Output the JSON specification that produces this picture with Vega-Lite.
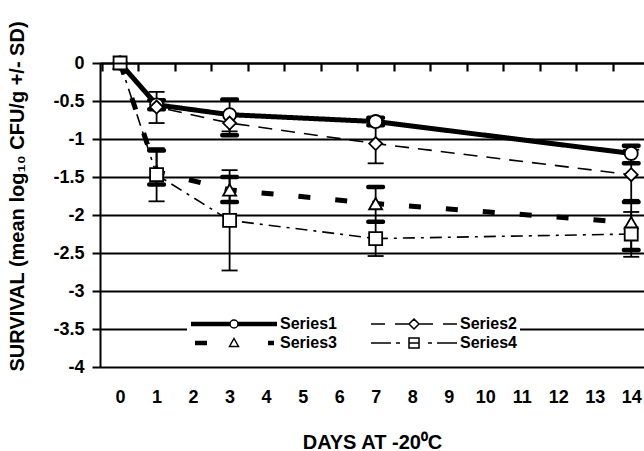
{
  "$schema": "https://vega.github.io/schema/vega-lite/v6.json",
  "width": 544,
  "height": 304,
  "autosize": {"type": "none"},
  "padding": {"left": 100, "top": 63, "right": 0, "bottom": 84},
  "background": "white",
  "config": {
    "view": {"stroke": null},
    "font": "Liberation Sans",
    "axis": {"labelFont": "Liberation Sans", "titleFont": "Liberation Sans", "labelColor": "black", "titleColor": "black"}
  },
  "data": {
    "values": [
      {"series": "Series1", "day": 0, "mean": 0, "lo": null, "hi": null},
      {"series": "Series1", "day": 1, "mean": -0.55, "lo": -0.61, "hi": -0.49},
      {"series": "Series1", "day": 3, "mean": -0.68, "lo": -0.95, "hi": -0.48},
      {"series": "Series1", "day": 7, "mean": -0.77, "lo": -0.82, "hi": -0.72},
      {"series": "Series1", "day": 14, "mean": -1.19, "lo": -1.32, "hi": -1.09},
      {"series": "Series2", "day": 0, "mean": 0, "lo": null, "hi": null},
      {"series": "Series2", "day": 1, "mean": -0.58, "lo": -0.79, "hi": -0.38},
      {"series": "Series2", "day": 3, "mean": -0.79, "lo": -0.9, "hi": -0.68},
      {"series": "Series2", "day": 7, "mean": -1.06, "lo": -1.32, "hi": -0.8},
      {"series": "Series2", "day": 14, "mean": -1.47, "lo": -1.8, "hi": -1.14},
      {"series": "Series3", "day": 0, "mean": 0, "lo": null, "hi": null},
      {"series": "Series3", "day": 1, "mean": -1.43, "lo": -1.6, "hi": -1.15},
      {"series": "Series3", "day": 3, "mean": -1.67, "lo": -1.83, "hi": -1.5},
      {"series": "Series3", "day": 7, "mean": -1.85, "lo": -2.09, "hi": -1.63},
      {"series": "Series3", "day": 14, "mean": -2.1, "lo": -2.46, "hi": -1.83},
      {"series": "Series4", "day": 0, "mean": 0, "lo": null, "hi": null},
      {"series": "Series4", "day": 1, "mean": -1.47, "lo": -1.82, "hi": -1.12},
      {"series": "Series4", "day": 3, "mean": -2.07, "lo": -2.73, "hi": -1.41},
      {"series": "Series4", "day": 7, "mean": -2.31, "lo": -2.54, "hi": -2.09},
      {"series": "Series4", "day": 14, "mean": -2.25, "lo": -2.55, "hi": -1.96}
    ]
  },
  "resolve": {"scale": {"shape": "independent"}, "axis": {"x": "independent"}},
  "layer": [
    {
      "transform": [{"filter": "datum.series === 'Series1' || datum.series === 'Series3'"}],
      "mark": {"type": "line", "color": "black", "strokeWidth": 5, "strokeCap": "butt"},
      "encoding": {
        "x": {"field": "day", "type": "quantitative",
          "scale": {"domain": [-0.55, 14.35], "nice": false, "zero": false},
          "axis": {"orient": "top", "values": [-0.5,0.5,1.5,2.5,3.5,4.5,5.5,6.5,7.5,8.5,9.5,10.5,11.5,12.5,13.5],
            "domain": true, "domainColor": "black", "domainWidth": 2, "labels": false, "grid": false,
            "ticks": true, "tickSize": -8, "tickColor": "black", "tickWidth": 2.2, "tickOpacity": 1, "zindex": 2, "title": null}},
        "y": {"field": "mean", "type": "quantitative",
          "scale": {"domain": [-4, 0], "nice": false, "zero": false},
          "axis": {"values": [-4,-3.5,-3,-2.5,-2,-1.5,-1,-0.5,0], "labelExpr": "'' + datum.value",
            "grid": true, "gridColor": "black", "gridWidth": 2, "gridOpacity": 1,
            "domainColor": "black", "domainWidth": 2, "tickColor": "black", "tickWidth": 2, "tickSize": 8,
            "labelFontSize": 18, "labelFontWeight": "bold", "labelPadding": 8,
            "title": "SURVIVAL (mean log₁₀ CFU/g +/- SD)", "titleFontSize": 20, "titleFontWeight": "bold",
            "titleAngle": -90, "titleX": -83, "titleY": 133, "titleBaseline": "middle", "titleAlign": "center"}},
        "detail": {"field": "series"},
        "strokeDash": {"field": "series", "type": "nominal",
          "scale": {"domain": ["Series1", "Series2", "Series3", "Series4"], "range": [[1, 0], [14, 9], [12, 25], [12, 6, 3, 6]]},
          "legend": null}
      }
    },
    {
      "transform": [{"filter": "datum.series === 'Series2' || datum.series === 'Series4'"}],
      "mark": {"type": "line", "color": "black", "strokeWidth": 1.6},
      "encoding": {
        "x": {"field": "day", "type": "quantitative",
          "axis": {"orient": "bottom", "values": [0,1,2,3,4,5,6,7,8,9,10,11,12,13,14], "domain": false, "ticks": false, "grid": false,
            "labelFontSize": 18, "labelFontWeight": "bold", "labelPadding": 21, "labelFlush": false,
            "title": "DAYS AT -20⁰C", "titleFontSize": 20, "titleFontWeight": "bold", "titleY": 75, "titleBaseline": "middle"}},
        "y": {"field": "mean", "type": "quantitative",
          "axis": {"values": [-4,-3.5,-3,-2.5,-2,-1.5,-1,-0.5,0], "labelExpr": "'' + datum.value",
            "grid": true, "gridColor": "black", "gridWidth": 2, "gridOpacity": 1,
            "domainColor": "black", "domainWidth": 2, "tickColor": "black", "tickWidth": 2, "tickSize": 8,
            "labelFontSize": 18, "labelFontWeight": "bold", "labelPadding": 8,
            "title": "SURVIVAL (mean log₁₀ CFU/g +/- SD)", "titleFontSize": 20, "titleFontWeight": "bold",
            "titleAngle": -90, "titleX": -83, "titleY": 133, "titleBaseline": "middle", "titleAlign": "center"}},
        "strokeDash": {"field": "series", "type": "nominal", "legend": null}
      }
    },
    {
      "transform": [{"filter": "datum.lo != null"}],
      "mark": {"type": "rule", "color": "black", "strokeWidth": 1.8},
      "encoding": {
        "x": {"field": "day", "type": "quantitative", "axis": null},
        "y": {"field": "lo", "type": "quantitative",
          "axis": {"values": [-4,-3.5,-3,-2.5,-2,-1.5,-1,-0.5,0], "labelExpr": "'' + datum.value",
            "grid": true, "gridColor": "black", "gridWidth": 2, "gridOpacity": 1,
            "domainColor": "black", "domainWidth": 2, "tickColor": "black", "tickWidth": 2, "tickSize": 8,
            "labelFontSize": 18, "labelFontWeight": "bold", "labelPadding": 8,
            "title": "SURVIVAL (mean log₁₀ CFU/g +/- SD)", "titleFontSize": 20, "titleFontWeight": "bold",
            "titleAngle": -90, "titleX": -83, "titleY": 133, "titleBaseline": "middle", "titleAlign": "center"}},
        "y2": {"field": "hi"}
      }
    },
    {
      "transform": [
        {"filter": "datum.lo != null && (datum.series === 'Series1' || datum.series === 'Series3')"},
        {"fold": ["lo", "hi"], "as": ["end", "val"]}
      ],
      "mark": {"type": "tick", "orient": "horizontal", "color": "black", "size": 19, "thickness": 4.5, "cornerRadius": 2, "opacity": 1},
      "encoding": {
        "x": {"field": "day", "type": "quantitative", "axis": null},
        "y": {"field": "val", "type": "quantitative",
          "axis": {"values": [-4,-3.5,-3,-2.5,-2,-1.5,-1,-0.5,0], "labelExpr": "'' + datum.value",
            "grid": true, "gridColor": "black", "gridWidth": 2, "gridOpacity": 1,
            "domainColor": "black", "domainWidth": 2, "tickColor": "black", "tickWidth": 2, "tickSize": 8,
            "labelFontSize": 18, "labelFontWeight": "bold", "labelPadding": 8,
            "title": "SURVIVAL (mean log₁₀ CFU/g +/- SD)", "titleFontSize": 20, "titleFontWeight": "bold",
            "titleAngle": -90, "titleX": -83, "titleY": 133, "titleBaseline": "middle", "titleAlign": "center"}}
      }
    },
    {
      "transform": [
        {"filter": "datum.lo != null && (datum.series === 'Series2' || datum.series === 'Series4')"},
        {"fold": ["lo", "hi"], "as": ["end", "val"]}
      ],
      "mark": {"type": "tick", "orient": "horizontal", "color": "black", "size": 16, "thickness": 1.8, "opacity": 1},
      "encoding": {
        "x": {"field": "day", "type": "quantitative", "axis": null},
        "y": {"field": "val", "type": "quantitative",
          "axis": {"values": [-4,-3.5,-3,-2.5,-2,-1.5,-1,-0.5,0], "labelExpr": "'' + datum.value",
            "grid": true, "gridColor": "black", "gridWidth": 2, "gridOpacity": 1,
            "domainColor": "black", "domainWidth": 2, "tickColor": "black", "tickWidth": 2, "tickSize": 8,
            "labelFontSize": 18, "labelFontWeight": "bold", "labelPadding": 8,
            "title": "SURVIVAL (mean log₁₀ CFU/g +/- SD)", "titleFontSize": 20, "titleFontWeight": "bold",
            "titleAngle": -90, "titleX": -83, "titleY": 133, "titleBaseline": "middle", "titleAlign": "center"}}
      }
    },
    {
      "mark": {"type": "point", "filled": true, "fill": "white", "stroke": "black", "strokeWidth": 1.8, "size": 170, "opacity": 1},
      "encoding": {
        "x": {"field": "day", "type": "quantitative", "axis": null},
        "y": {"field": "mean", "type": "quantitative",
          "axis": {"values": [-4,-3.5,-3,-2.5,-2,-1.5,-1,-0.5,0], "labelExpr": "'' + datum.value",
            "grid": true, "gridColor": "black", "gridWidth": 2, "gridOpacity": 1,
            "domainColor": "black", "domainWidth": 2, "tickColor": "black", "tickWidth": 2, "tickSize": 8,
            "labelFontSize": 18, "labelFontWeight": "bold", "labelPadding": 8,
            "title": "SURVIVAL (mean log₁₀ CFU/g +/- SD)", "titleFontSize": 20, "titleFontWeight": "bold",
            "titleAngle": -90, "titleX": -83, "titleY": 133, "titleBaseline": "middle", "titleAlign": "center"}},
        "shape": {"field": "series", "type": "nominal",
          "scale": {"domain": ["Series1", "Series2", "Series3", "Series4"], "range": ["circle", "diamond", "triangle-up", "square"]},
          "legend": null}
      }
    },
    {
      "mark": {"type": "point", "filled": true, "fill": "transparent", "stroke": "transparent", "strokeWidth": 1.5},
      "encoding": {
        "x": {"field": "day", "type": "quantitative", "axis": null},
        "y": {"field": "mean", "type": "quantitative",
          "axis": {"values": [-4,-3.5,-3,-2.5,-2,-1.5,-1,-0.5,0], "labelExpr": "'' + datum.value",
            "grid": true, "gridColor": "black", "gridWidth": 2, "gridOpacity": 1,
            "domainColor": "black", "domainWidth": 2, "tickColor": "black", "tickWidth": 2, "tickSize": 8,
            "labelFontSize": 18, "labelFontWeight": "bold", "labelPadding": 8,
            "title": "SURVIVAL (mean log₁₀ CFU/g +/- SD)", "titleFontSize": 20, "titleFontWeight": "bold",
            "titleAngle": -90, "titleX": -83, "titleY": 133, "titleBaseline": "middle", "titleAlign": "center"}},
        "shape": {"field": "series", "type": "nominal",
          "scale": {"domain": ["Series1", "Series2", "Series3", "Series4"],
            "range": [
              "M-4.3,-0.15L-0.4,-0.15M-4.3,0L-0.4,0M-4.3,0.15L-0.4,0.15M0.4,-0.15L4.3,-0.15M0.4,0L4.3,0M0.4,0.15L4.3,0.15M0.4,0A0.4,0.4 0 1,1 -0.4,0A0.4,0.4 0 1,1 0.4,0Z",
              "M-4.3,0L-2.9,0M-1.9,0L-0.5,0M0.5,0L1.9,0M2.9,0L4.3,0M0,-0.5L0.5,0L0,0.5L-0.5,0Z",
              "M-3.9,-0.15L-2.7,-0.15M-3.9,0L-2.7,0M-3.9,0.15L-2.7,0.15M3.4,-0.15L4,-0.15M3.4,0L4,0M3.4,0.15L4,0.15M0,-0.45L0.45,0.35L-0.45,0.35Z",
              "M-4.3,0L-2.3,0M-1.8,0L-1.4,0M1.4,0L1.8,0M2.3,0L4.3,0M-0.5,-0.5L0.5,-0.5L0.5,0.5L-0.5,0.5ZM-0.5,0L0.5,0"
            ]},
          "legend": {"orient": "none", "legendX": 87, "legendY": 247, "title": null, "columns": 2, "direction": "horizontal",
            "symbolSize": 400, "symbolOffset": 33, "labelOffset": 35,
            "symbolOpacity": 1, "symbolFillColor": "white", "symbolStrokeColor": "black", "symbolStrokeWidth": 1.5,
            "columnPadding": 31, "rowPadding": 0, "padding": 3, "fillColor": "white", "strokeColor": null,
            "labelFont": "Liberation Sans", "labelFontSize": 16, "labelFontWeight": "bold", "labelColor": "black", "labelLimit": 200}}
      }
    }
  ]
}
